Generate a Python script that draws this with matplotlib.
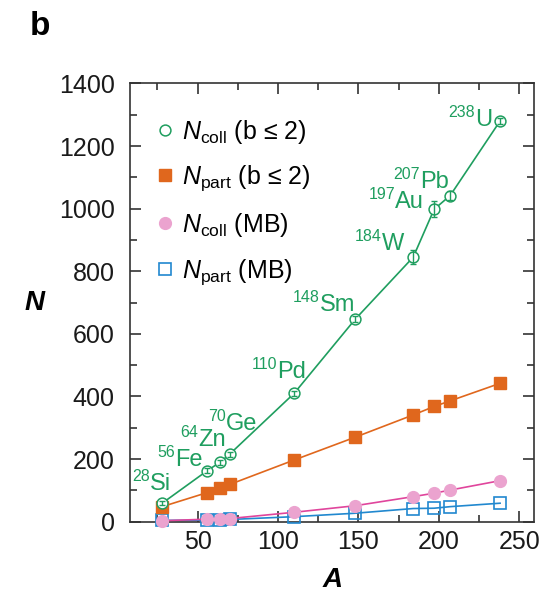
import matplotlib.pyplot as plt
from matplotlib.ticker import MultipleLocator

plt.rcParams['font.family'] = ['Liberation Sans', 'DejaVu Sans']
plt.rcParams['mathtext.fontset'] = 'custom'
plt.rcParams['mathtext.rm'] = 'Liberation Sans'
plt.rcParams['mathtext.it'] = 'Liberation Sans:italic'
plt.rcParams['mathtext.bf'] = 'Liberation Sans:bold:italic'

# mass numbers of the colliding nuclei
A = [28, 56, 64, 70, 110, 148, 184, 197, 207, 238]
isotopes = ['Si', 'Fe', 'Zn', 'Ge', 'Pd', 'Sm', 'W', 'Au', 'Pb', 'U']

ncoll_central = [59, 163, 190, 216, 410, 647, 845, 998, 1042, 1280]
ncoll_central_err = [6, 8, 8, 8, 8, 10, 22, 25, 15, 10]
npart_central = [48, 93, 109, 119, 197, 270, 341, 368, 386, 442]
ncoll_mb = [3, 8, 9, 10, 30, 51, 80, 91, 101, 131]
npart_mb = [4, 5, 6, 7, 16, 27, 42, 43, 48, 59]

# baseline start (A, N) of each element symbol; mass number goes up-left of it
label_pos = [(20.4, 101), (36.0, 178), (50.3, 242), (67.7, 293), (99.5, 459),
             (126.2, 673), (164.8, 868), (172.9, 1002), (188.5, 1066), (222.7, 1265)]

green = '#1f9e5f'
orange = '#e0671d'
pink_line = '#e0459c'
pink_fill = '#eba3cf'
blue = '#2188cf'

fig = plt.figure(figsize=(5.47, 5.96), dpi=100)
ax = fig.add_axes([0.2377, 0.1247, 0.7383, 0.7353])

ms = 8.2
ax.plot(A, npart_mb, '-', color=blue, lw=1.2, zorder=2)
ax.plot(A, npart_mb, 's', mfc='none', mec=blue, ms=ms, mew=1.2, ls='none',
        clip_on=False, zorder=3, label=r'$N_{\rm part}$ (MB)')
ax.plot(A, ncoll_mb, '-', color=pink_line, lw=1.2, zorder=4)
ax.plot(A, ncoll_mb, 'o', mfc=pink_fill, mec=pink_fill, ms=ms + 0.3, ls='none',
        clip_on=False, zorder=5, label=r'$N_{\rm coll}$ (MB)')
ax.plot(A, npart_central, '-', color=orange, lw=1.2, zorder=6)
ax.plot(A, npart_central, 's', color=orange, ms=ms, ls='none',
        clip_on=False, zorder=7, label=r'$N_{\rm part}$ (b ≤ 2)')
ax.plot(A, ncoll_central, '-', color=green, lw=1.2, zorder=8)
ax.plot(A, ncoll_central, 'o', mfc='white', mec=green, ms=ms - 0.4, mew=1.1,
        ls='none', clip_on=False, zorder=9, label=r'$N_{\rm coll}$ (b ≤ 2)')
ax.errorbar(A, ncoll_central, yerr=ncoll_central_err, fmt='none',
            ecolor=green, elinewidth=1.0, capsize=2.5, capthick=1.0,
            clip_on=False, zorder=10)

for (x, y), mass, name in zip(label_pos, A, isotopes):
    ax.text(x, y, name, color=green, fontsize=17, ha='left', va='baseline')
    ax.annotate(str(mass), xy=(x, y), xytext=(-0.3, 6.5),
                textcoords='offset points', color=green, fontsize=11.5,
                ha='right', va='baseline')

ax.set_xlim(8, 259)
ax.set_ylim(0, 1400)
ax.xaxis.set_major_locator(MultipleLocator(50))
ax.xaxis.set_minor_locator(MultipleLocator(25))
ax.yaxis.set_major_locator(MultipleLocator(200))
ax.yaxis.set_minor_locator(MultipleLocator(100))
ax.tick_params(which='both', direction='in', top=True, right=True,
               labelsize=18, width=1.2, colors='#333333', labelcolor='#1a1a1a')
ax.tick_params(which='major', length=8)
ax.tick_params(axis='y', which='major', pad=11)
ax.tick_params(axis='x', which='major', pad=6)
ax.tick_params(which='minor', length=5)
for s in ax.spines.values():
    s.set_linewidth(1.2)
    s.set_color('#333333')

ax.set_xlabel(r'$\mathbf{A}$', fontsize=20, labelpad=9)
ax.set_ylabel(r'$\mathbf{N}$', fontsize=20, rotation=0, labelpad=17, va='center')

handles, labels = ax.get_legend_handles_labels()
ax.legend(handles[::-1], labels[::-1], loc='upper left', frameon=False,
          fontsize=18, handletextpad=0.15, handlelength=1.0, labelspacing=0.72,
          borderaxespad=0, borderpad=0.4, bbox_to_anchor=(0.032, 0.945))

fig.text(0.055, 0.955, 'b', fontsize=24, fontweight='bold', va='center')

plt.savefig('out.png', dpi=100)
